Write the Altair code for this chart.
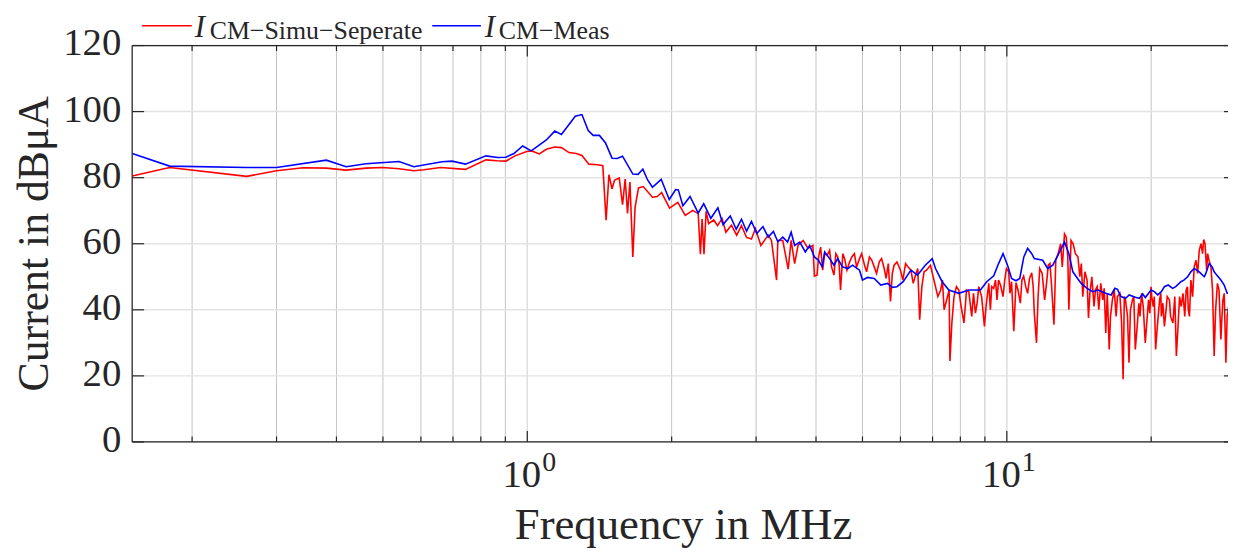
import altair as alt
import pandas as pd

# ---------------- data ----------------
blue_f = [0.150, 0.1795, 0.260, 0.300, 0.381, 0.419, 0.461, 0.540, 0.580, 0.664,
          0.697, 0.743, 0.820, 0.867, 0.902, 0.938, 0.978, 1.019, 1.096, 1.141,
          1.178, 1.259, 1.300, 1.340, 1.372, 1.414, 1.456, 1.502, 1.540, 1.580,
          1.660, 1.702, 1.742, 1.782, 1.824, 1.902, 1.977, 2.039, 2.065, 2.111,
          2.185, 2.272, 2.333, 2.414, 2.497, 2.560, 2.650, 2.727, 2.797, 2.866,
          2.934, 3.01, 3.10, 3.18, 3.26, 3.33, 3.41, 3.49, 3.55, 3.61,
          3.70, 3.80, 3.88, 3.97, 4.05, 4.12, 4.17, 4.27, 4.36, 4.44,
          4.54, 4.66, 4.77, 4.93, 5.00, 5.12, 5.29, 5.46, 5.64, 5.77,
          5.90, 6.08, 6.31, 6.51, 6.76, 6.99, 7.10, 7.33, 7.57, 7.94,
          8.33, 8.81, 9.08, 9.39, 9.61, 9.82, 10.05, 10.23, 10.45, 10.64,
          10.85, 11.05, 11.27, 11.41, 11.88, 12.17, 12.47, 12.78, 13.19, 13.47,
          13.73, 14.29, 15.11, 16.08, 17.01, 17.68, 18.53, 19.44, 19.99, 20.64,
          21.31, 22.17, 23.07, 23.82, 24.59, 25.19, 25.80, 26.42, 27.06, 27.95,
          28.8, 30.0]
blue_db = [87.3, 83.5, 83.1, 83.1, 85.3, 83.3, 84.2, 84.9, 83.3, 84.8,
           85.0, 84.1, 86.6, 86.1, 86.2, 87.3, 89.6, 88.1, 91.4, 94.1,
           93.1, 98.6, 99.1, 94.3, 92.8, 92.8, 90.5, 85.9, 85.8, 86.5,
           81.1, 81.0, 82.6, 79.3, 77.1, 79.5, 73.4, 76.4, 76.3, 71.5,
           74.3, 69.3, 72.1, 67.7, 70.9, 65.8, 68.4, 64.4, 67.4, 63.8,
           66.8, 63.1, 65.2, 62.0, 63.7, 60.6, 62.0, 60.5, 63.5, 59.5,
           60.5, 57.5, 59.5, 56.0, 55.0, 53.0, 57.5, 55.5, 53.5, 55.5,
           53.0, 52.5, 53.5, 52.0, 49.0, 49.8, 49.5, 47.5, 48.0, 46.8,
           47.0, 48.5, 52.0, 50.5, 53.5, 55.5, 52.5, 48.5, 46.0, 45.0,
           46.0, 46.0, 48.5, 50.3, 54.0, 57.0, 53.2, 49.5, 48.8, 49.5,
           56.0, 58.6, 57.0, 55.5, 55.0, 52.5, 53.5, 56.5, 60.5, 57.0,
           51.5, 48.0, 45.5, 45.0, 46.2, 43.5, 43.8, 43.7, 46.0, 44.5,
           47.0, 46.5, 48.5, 50.0, 52.5, 51.5, 50.0, 54.0, 51.5, 49.0,
           45.0, 46.0]
# small wiggles of the measured trace above 14 MHz
blue_extra_f = [14.7, 15.5, 16.5, 16.8, 17.3, 18.0, 18.9, 19.2, 20.3, 21.0,
                21.7, 22.5, 23.4, 24.2, 26.0, 26.8, 27.4, 28.4]
blue_extra_db = [46.5, 46.0, 44.5, 46.5, 44.0, 44.5, 43.5, 44.8, 45.5, 45.5,
                 47.5, 47.0, 49.0, 51.5, 51.0, 53.0, 50.5, 47.5]

red_f = [0.150, 0.1795, 0.260, 0.300, 0.341, 0.381, 0.419, 0.461, 0.499, 0.540,
         0.580, 0.609, 0.659, 0.743, 0.820, 0.864, 0.902, 0.943, 0.997, 1.021,
         1.059, 1.096, 1.141, 1.178, 1.222, 1.265, 1.300, 1.344, 1.403, 1.437,
         1.460, 1.480, 1.502, 1.520, 1.555, 1.580, 1.600, 1.618, 1.637, 1.660,
         1.678, 1.706, 1.745, 1.824, 1.867, 1.906, 1.980, 2.060, 2.135, 2.213,
         2.272, 2.296, 2.315, 2.336, 2.360, 2.389, 2.448, 2.493, 2.548, 2.595,
         2.665, 2.733, 2.797, 2.866, 2.934, 2.990, 3.070, 3.180, 3.230, 3.310,
         3.330, 3.410, 3.500, 3.550, 3.610, 3.670, 3.760, 3.850, 3.940, 3.970,
         4.020, 4.090, 4.170, 4.270, 4.360, 4.440, 4.500, 4.590, 4.700, 4.810,
         4.930, 5.050, 5.170, 5.290, 5.420, 5.550, 5.720, 5.820, 6.000, 6.150,
         6.310, 6.450, 6.580, 6.720, 6.930, 7.100, 7.280, 7.400, 7.520, 7.610,
         7.760, 7.940, 8.140, 8.330, 8.600, 8.740, 8.980, 9.170, 9.240, 9.390,
         9.470, 9.610, 9.820, 9.980, 10.09, 10.23, 10.34, 10.45, 10.67, 10.84,
         11.05, 11.27, 11.41, 11.53, 11.71, 11.99, 12.30, 12.54, 12.79, 13.19,
         13.47, 13.61, 14.07, 14.30, 14.40, 14.55, 14.80, 15.04, 15.20, 15.43,
         15.70, 15.96, 16.08, 16.35, 16.60, 16.90, 17.01, 17.20, 17.48, 17.68,
         17.98, 18.10, 18.28, 18.53, 18.70, 18.85, 19.10, 19.44, 19.60, 19.75,
         19.99, 20.20, 20.43, 20.82, 21.00, 21.31, 21.60, 21.83, 22.20, 22.57,
         22.92, 23.30, 23.66, 23.90, 24.03, 24.59, 25.19, 25.73, 26.23, 26.65,
         27.06, 27.49, 27.95, 28.22, 28.63, 29.30, 30.00]
red_db = [80.5, 83.1, 80.4, 82.1, 83.0, 82.9, 82.3, 82.9, 83.1, 82.7,
          82.1, 82.4, 83.1, 82.5, 85.4, 85.1, 85.0, 86.6, 87.9, 88.1,
          87.2, 88.6, 89.3, 89.1, 87.6, 87.3, 86.7, 84.1, 83.9, 83.6,
          67.1, 80.9, 76.6, 79.2, 79.9, 71.8, 79.6, 69.2, 78.7, 56.0,
          71.1, 76.9, 77.3, 74.1, 74.3, 75.5, 70.8, 72.5, 68.6, 70.1,
          69.1, 56.8, 67.5, 56.8, 69.8, 66.1, 67.2, 65.5, 67.6, 63.5,
          65.6, 62.6, 65.5, 61.9, 61.4, 64.6, 59.5, 62.6, 61.0, 49.0,
          61.0, 61.0, 52.3, 61.0, 54.0, 59.5, 61.0, 58.6, 59.5, 50.2,
          50.5, 59.0, 57.0, 58.0, 50.5, 56.0, 46.0, 55.5, 54.5, 57.0,
          55.5, 53.5, 56.0, 53.0, 54.5, 52.5, 42.5, 53.5, 52.0, 54.0,
          52.0, 50.5, 37.0, 51.5, 53.5, 47.0, 46.0, 40.0, 44.0, 24.5,
          44.0, 46.0, 36.0, 45.5, 39.0, 47.0, 35.0, 48.0, 40.0, 46.5,
          49.0, 49.0, 44.0, 52.5, 51.5, 48.5, 33.5, 48.2, 42.0, 50.2,
          45.0, 51.2, 39.0, 30.0, 52.5, 43.0, 54.0, 35.5, 57.0, 63.0,
          40.0, 61.0, 56.0, 54.0, 44.0, 51.5, 37.5, 50.0, 41.0, 47.0,
          48.0, 46.5, 33.0, 28.0, 43.0, 38.0, 44.0, 45.0, 19.0, 43.0,
          24.0, 40.0, 43.0, 28.0, 35.0, 42.0, 45.0, 30.0, 37.0, 43.0,
          47.0, 41.0, 28.0, 43.0, 38.0, 35.0, 44.0, 43.0, 36.0, 26.0,
          44.0, 45.0, 46.0, 40.0, 38.0, 53.0, 58.0, 61.3, 57.0, 53.0,
          26.0, 48.0, 31.0, 43.0, 24.0, 45.0, 43.0]
# extra samples of the dense, noisy simulated band above 4 MHz
red_band_f = [4.05, 4.13, 4.22, 4.31, 4.40, 4.47, 4.55, 4.64, 4.75, 4.86,
              4.98, 5.10, 5.23, 5.35, 5.48, 5.60, 5.66, 5.77, 5.90, 6.07,
              6.22, 6.38, 6.52, 6.65, 6.80, 7.02, 7.18, 7.34, 7.46, 7.58,
              7.68, 7.85, 8.03, 8.24, 8.45, 8.52, 8.67, 8.86, 9.05, 9.30,
              9.54, 9.70, 9.90, 10.15, 10.55, 10.75, 10.95, 11.15, 11.35, 11.62,
              11.85, 12.10, 12.20, 12.40, 12.65, 12.95, 13.05, 13.30, 13.40, 13.55,
              13.75, 13.90, 14.20, 14.70, 14.90, 15.30, 15.55, 15.85, 16.20, 16.45,
              16.75, 17.35, 17.58, 17.85, 18.40, 18.95, 19.25, 19.87, 20.05, 20.30,
              20.60, 20.95, 21.15, 21.45, 21.95, 22.40, 22.75, 23.10, 23.50, 23.80,
              24.20, 24.40, 24.80, 25.00, 25.40, 25.60, 25.90, 26.10, 26.40, 26.85,
              27.25, 27.70, 28.05, 28.40, 28.80]
red_band_db = [56.0, 52.0, 56.5, 53.0, 57.0, 53.5, 57.0, 52.0, 56.0, 53.0,
               57.0, 51.5, 55.0, 51.0, 55.5, 49.5, 54.0, 51.0, 54.5, 49.0,
               53.0, 48.0, 52.5, 47.0, 52.0, 50.0, 44.0, 49.0, 42.0, 46.0,
               36.0, 47.0, 41.0, 46.0, 38.0, 45.0, 42.0, 44.0, 41.0, 47.0,
               43.0, 47.5, 49.0, 45.0, 46.0, 49.0, 47.0, 49.5, 47.0, 44.0,
               51.0, 48.0, 53.5, 47.0, 55.0, 60.0, 53.0, 62.0, 56.0, 52.0,
               60.0, 57.0, 50.0, 49.0, 45.0, 46.0, 40.0, 43.0, 45.0, 38.0,
               46.0, 36.0, 44.0, 38.0, 44.0, 38.0, 41.0, 39.0, 44.0, 44.0,
               35.0, 45.0, 42.0, 39.0, 38.0, 44.0, 35.0, 41.0, 38.0, 47.0,
               49.0, 44.0, 55.0, 51.0, 60.0, 57.0, 60.0, 52.0, 55.0, 46.0,
               40.0, 46.0, 36.0, 45.0, 38.0]

assert len(blue_f) == len(blue_db) and len(blue_extra_f) == len(blue_extra_db)
assert len(red_f) == len(red_db) and len(red_band_f) == len(red_band_db)

x_major = [1, 10]
x_major_base = ["10", "10"]
x_major_exp = ["0", "1"]
x_minor = [0.2, 0.3, 0.4, 0.5, 0.6, 0.7, 0.8, 0.9, 2, 3, 4, 5, 6, 7, 8, 9, 20]
y_ticks = [0, 20, 40, 60, 80, 100, 120]

legend_names = ["CM\u2212Simu\u2212Seperate", "CM\u2212Meas"]
x_title = "Frequency in MHz"
y_title = "Current in dB\u03bcA"

# ---------------- layout / style ----------------
W, H = 1103, 399
FONT = "Liberation Serif"
DARK = "#262626"
RED = "#ff0000"
BLUE = "#0000ff"

xs = alt.Scale(type="log", domain=[0.15, 28.92], nice=False)
ys = alt.Scale(domain=[0, 120], nice=False)

blue_df = pd.DataFrame({"f": blue_f + blue_extra_f, "db": blue_db + blue_extra_db}).sort_values("f")
red_df = pd.DataFrame({"f": red_f + red_band_f, "db": red_db + red_band_db}).sort_values("f")
maj_df = pd.DataFrame({"f": x_major, "base": x_major_base, "exp": x_major_exp})
min_df = pd.DataFrame({"f": x_minor})
yt_df = pd.DataFrame({"v": y_ticks, "lab": [str(v) for v in y_ticks]})
one = pd.DataFrame({"a": [0]})

X = lambda: alt.X("f:Q", scale=xs, axis=None)
Y = lambda: alt.Y("v:Q", scale=ys, axis=None)

# grids
grid_minor = alt.Chart(min_df).mark_rule(color="#c4c4c4", strokeWidth=1).encode(
    x=X(), y=alt.value(0), y2=alt.value(H))
grid_major = alt.Chart(maj_df).mark_rule(color="#dedede", strokeWidth=1.5).encode(
    x=X(), y=alt.value(0), y2=alt.value(H))
grid_h = alt.Chart(yt_df).mark_rule(color="#e3e3e3", strokeWidth=1.5).encode(
    y=Y(), x=alt.value(0), x2=alt.value(W))

# data lines
red_line = alt.Chart(red_df).mark_line(color=RED, strokeWidth=1.6, clip=True).encode(
    x=alt.X("f:Q", scale=xs, axis=None), y=alt.Y("db:Q", scale=ys, axis=None))
blue_line = alt.Chart(blue_df).mark_line(color=BLUE, strokeWidth=1.6, clip=True).encode(
    x=alt.X("f:Q", scale=xs, axis=None), y=alt.Y("db:Q", scale=ys, axis=None))

# frame
frame_left = alt.Chart(one).mark_rule(color=DARK, strokeWidth=1.3).encode(
    x=alt.value(0), y=alt.value(0), y2=alt.value(H))
frame_bottom = alt.Chart(one).mark_rule(color=DARK, strokeWidth=1.3).encode(
    y=alt.value(H), x=alt.value(0), x2=alt.value(W))
frame_top = alt.Chart(one).mark_rule(color=DARK, strokeWidth=1.3).encode(
    y=alt.value(0), x=alt.value(0), x2=alt.value(W))

# inward ticks
tk = dict(color=DARK, strokeWidth=1.2)
tick_bot_maj = alt.Chart(maj_df).mark_rule(**tk).encode(x=X(), y=alt.value(H), y2=alt.value(H - 11))
tick_top_maj = alt.Chart(maj_df).mark_rule(**tk).encode(x=X(), y=alt.value(0), y2=alt.value(11))
tick_bot_min = alt.Chart(min_df).mark_rule(**tk).encode(x=X(), y=alt.value(H), y2=alt.value(H - 5.5))
tick_top_min = alt.Chart(min_df).mark_rule(**tk).encode(x=X(), y=alt.value(0), y2=alt.value(5.5))
tick_left = alt.Chart(yt_df).mark_rule(**tk).encode(y=Y(), x=alt.value(0), x2=alt.value(12))
tick_right = alt.Chart(yt_df).mark_rule(**tk).encode(y=Y(), x=alt.value(W - 4), x2=alt.value(W))

# tick labels
ylab = alt.Chart(yt_df).mark_text(font=FONT, fontSize=39, align="right", baseline="alphabetic",
                                  dy=10, color=DARK).encode(
    y=Y(), x=alt.value(-11), text="lab:N")
xlab_base = alt.Chart(maj_df).mark_text(font=FONT, fontSize=39, align="right", baseline="alphabetic",
                                        dx=14, color=DARK).encode(
    x=X(), y=alt.value(H + 45), text="base:N")
xlab_exp = alt.Chart(maj_df).mark_text(font=FONT, fontSize=28, align="left", baseline="alphabetic",
                                       dx=15, color=DARK).encode(
    x=X(), y=alt.value(H + 29), text="exp:N")

# axis titles
xt = alt.Chart(one).mark_text(font=FONT, fontSize=45, align="center", baseline="alphabetic",
                              color=DARK).encode(
    x=alt.value(555), y=alt.value(497), text=alt.value(x_title))
yt = alt.Chart(one).mark_text(font=FONT, fontSize=44, align="center", baseline="alphabetic",
                              angle=270, color=DARK).encode(
    x=alt.value(-85), y=alt.value(H / 2), text=alt.value(y_title))

# legend (above plot)
LEG_LINE_Y = -20
I_Y = -8.4
SUB_Y = -6.5
leg_red_line = alt.Chart(one).mark_rule(color=RED, strokeWidth=1.6).encode(
    x=alt.value(10), x2=alt.value(60), y=alt.value(LEG_LINE_Y))
leg_red_I = alt.Chart(one).mark_text(font=FONT, fontSize=31, fontStyle="italic", align="left",
                                     baseline="alphabetic", color=DARK).encode(
    x=alt.value(63), y=alt.value(I_Y), text=alt.value("I"))
leg_red_sub = alt.Chart(one).mark_text(font=FONT, fontSize=26, align="left",
                                       baseline="alphabetic", color=DARK).encode(
    x=alt.value(78), y=alt.value(SUB_Y), text=alt.value(legend_names[0]))
leg_blue_line = alt.Chart(one).mark_rule(color=BLUE, strokeWidth=1.6).encode(
    x=alt.value(302), x2=alt.value(351), y=alt.value(LEG_LINE_Y))
leg_blue_I = alt.Chart(one).mark_text(font=FONT, fontSize=31, fontStyle="italic", align="left",
                                      baseline="alphabetic", color=DARK).encode(
    x=alt.value(355), y=alt.value(I_Y), text=alt.value("I"))
leg_blue_sub = alt.Chart(one).mark_text(font=FONT, fontSize=26, align="left",
                                        baseline="alphabetic", color=DARK).encode(
    x=alt.value(369), y=alt.value(SUB_Y), text=alt.value(legend_names[1]))

chart = alt.layer(
    grid_minor, grid_major, grid_h,
    red_line, blue_line,
    frame_left, frame_bottom, frame_top,
    tick_bot_maj, tick_top_maj, tick_bot_min, tick_top_min, tick_left, tick_right,
    ylab, xlab_base, xlab_exp, xt, yt,
    leg_red_line, leg_red_I, leg_red_sub, leg_blue_line, leg_blue_I, leg_blue_sub,
).properties(
    width=W, height=H,
    padding={"left": 125, "top": 36, "right": 0, "bottom": 110},
    autosize=alt.AutoSizeParams(type="none"),
    background="white",
).configure_view(stroke=None)

chart.save("out.html", embed_options={"renderer": "svg", "actions": False})
